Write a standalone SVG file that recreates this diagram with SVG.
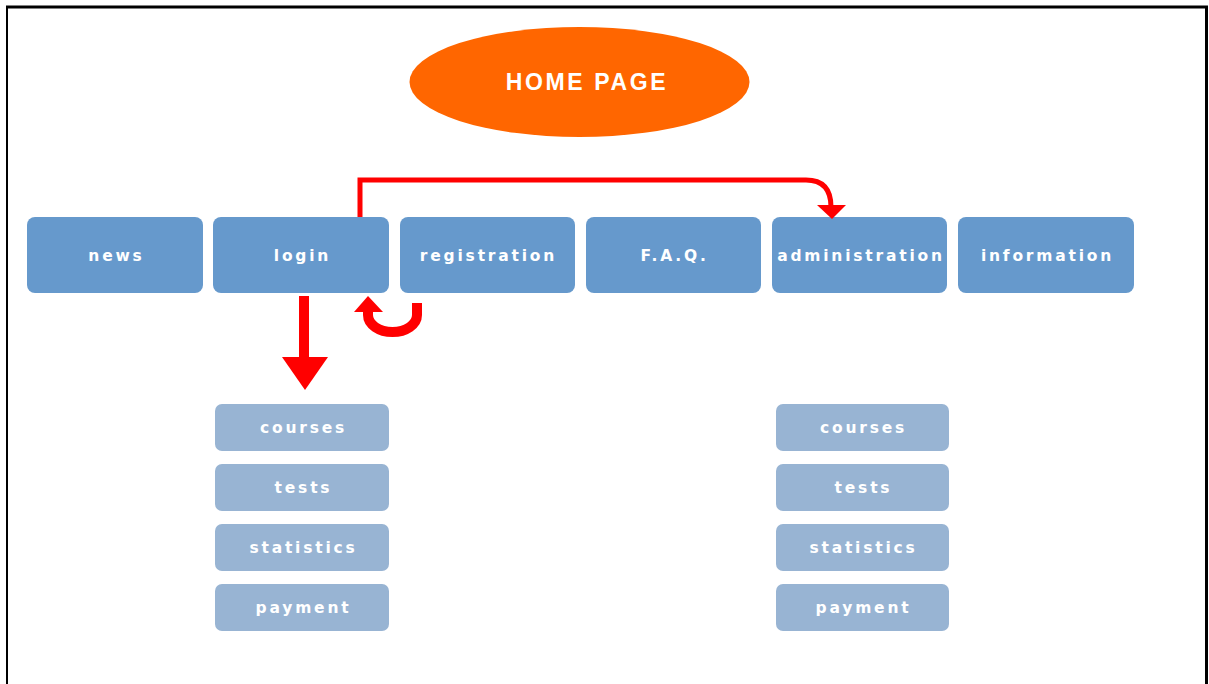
<svg xmlns="http://www.w3.org/2000/svg" width="1209" height="684" viewBox="0 0 1209 684">
<style>
.main{fill:#6699CC}
.sub{fill:#98B4D3}
.lbl{font-family:"DejaVu Sans","Liberation Sans",sans-serif;font-weight:bold;font-size:15.5px;letter-spacing:2.8px;fill:#FFFFFF;text-anchor:middle}
.home{font-family:"Liberation Sans",Arial,sans-serif;font-weight:bold;font-size:23px;letter-spacing:2.6px;fill:#FFFFFF;text-anchor:middle}
.red{fill:none;stroke:#FF0000}
</style>
<rect x="0" y="0" width="1209" height="684" fill="#FFFFFF"/>
<g id="frame" stroke="#000000" fill="none">
<line x1="6" y1="7" x2="1208" y2="7" stroke-width="3"/>
<line x1="7" y1="6" x2="7" y2="684" stroke-width="2"/>
<line x1="1206.5" y1="6" x2="1206.5" y2="684" stroke-width="3"/>
</g>
<g id="home">
<ellipse cx="579.5" cy="82" rx="170" ry="55" fill="#FF6600"/>
<text class="home" x="587" y="90">HOME PAGE</text>
</g>
<g id="news"><rect class="main" x="27" y="217" width="176" height="76" rx="8"/><text class="lbl" x="116.5" y="261">news</text></g>
<g id="login"><rect class="main" x="213" y="217" width="176" height="76" rx="8"/><text class="lbl" x="302.5" y="261">login</text></g>
<g id="registration"><rect class="main" x="400" y="217" width="175" height="76" rx="8"/><text class="lbl" x="488.5" y="261">registration</text></g>
<g id="faq"><rect class="main" x="586" y="217" width="175" height="76" rx="8"/><text class="lbl" x="674.5" y="261">F.A.Q.</text></g>
<g id="administration"><rect class="main" x="772" y="217" width="175" height="76" rx="8"/><text class="lbl" x="861" y="261">administration</text></g>
<g id="information"><rect class="main" x="958" y="217" width="176" height="76" rx="8"/><text class="lbl" x="1047.5" y="261">information</text></g>

<g id="login-courses"><rect class="sub" x="215" y="404" width="174" height="47" rx="7"/><text class="lbl" x="303.5" y="433">courses</text></g>
<g id="login-tests"><rect class="sub" x="215" y="464" width="174" height="47" rx="7"/><text class="lbl" x="303.5" y="493">tests</text></g>
<g id="login-statistics"><rect class="sub" x="215" y="524" width="174" height="47" rx="7"/><text class="lbl" x="303.5" y="553">statistics</text></g>
<g id="login-payment"><rect class="sub" x="215" y="584" width="174" height="47" rx="7"/><text class="lbl" x="303.5" y="613">payment</text></g>

<g id="admin-courses"><rect class="sub" x="776" y="404" width="173" height="47" rx="7"/><text class="lbl" x="863.5" y="433">courses</text></g>
<g id="admin-tests"><rect class="sub" x="776" y="464" width="173" height="47" rx="7"/><text class="lbl" x="863.5" y="493">tests</text></g>
<g id="admin-statistics"><rect class="sub" x="776" y="524" width="173" height="47" rx="7"/><text class="lbl" x="863.5" y="553">statistics</text></g>
<g id="admin-payment"><rect class="sub" x="776" y="584" width="173" height="47" rx="7"/><text class="lbl" x="863.5" y="613">payment</text></g>

<g id="connectors">
<path class="red" stroke-width="5" d="M360,217 V180 H806 Q831,180 831,207"/>
<polygon fill="#FF0000" points="817,205 846,205 832,219"/>
<rect x="299" y="296" width="10" height="62" fill="#FF0000"/>
<polygon fill="#FF0000" points="282,357 328,357 305,390"/>
<path class="red" stroke-width="10" d="M417,303 V315 A24.5,17 0 0 1 368,315 V311"/>
<polygon fill="#FF0000" points="354,312 383,312 368,296"/>
</g>
</svg>
